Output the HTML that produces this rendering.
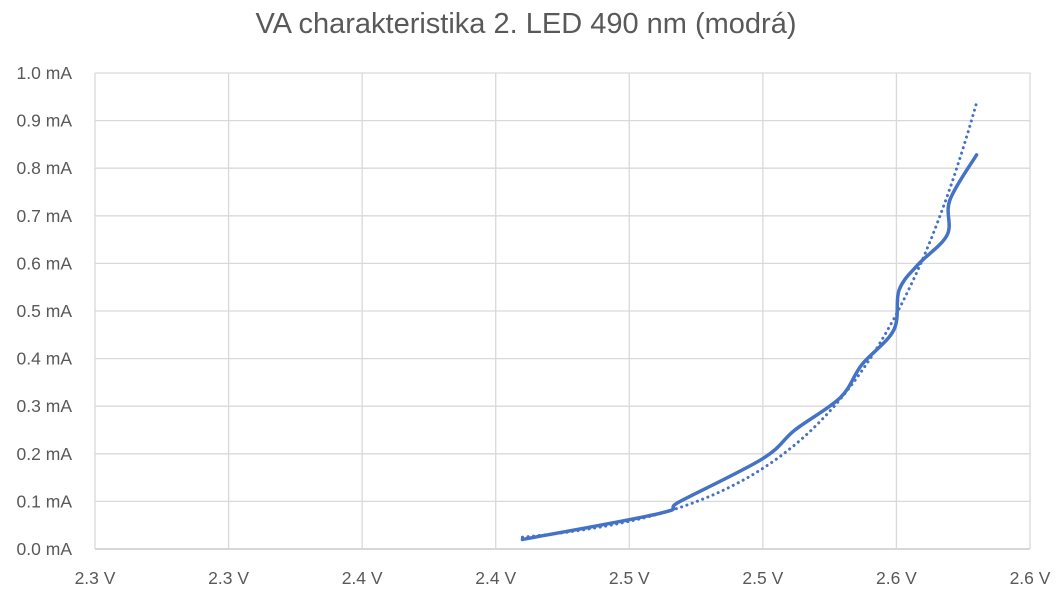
<!DOCTYPE html>
<html><head><meta charset="utf-8"><style>
body{margin:0;background:#fff;}
svg{display:block;font-family:"Liberation Sans",Calibri,sans-serif;}
</style></head><body>
<svg id="chart" width="1057" height="592" viewBox="0 0 1057 592">
<text x="526" y="33" text-anchor="middle" font-size="29" fill="#595959">VA charakteristika 2. LED 490 nm (modrá)</text>
<g id="grid"></g><g id="axes"></g><g id="series"></g>
</svg>
<script>
const xTicks=[2.25,2.30,2.35,2.40,2.45,2.50,2.55,2.60];
const xTickLabels=["2.3 V","2.3 V","2.4 V","2.4 V","2.5 V","2.5 V","2.6 V","2.6 V"];
const yTicks=[0,0.1,0.2,0.3,0.4,0.5,0.6,0.7,0.8,0.9,1.0];
const yTickLabels=["0.0 mA","0.1 mA","0.2 mA","0.3 mA","0.4 mA","0.5 mA","0.6 mA","0.7 mA","0.8 mA","0.9 mA","1.0 mA"];
const voltage=[2.41,2.4615,2.469,2.50,2.512,2.529,2.537,2.549,2.551,2.558,2.569,2.570,2.58];
const current=[0.02,0.075,0.10,0.19,0.25,0.318,0.387,0.46,0.544,0.597,0.66,0.733,0.828];
const NS="http://www.w3.org/2000/svg";
const X0=95,X1=1030,Y0=549,Y1=73;
const xs=v=>X0+(v-2.25)/(2.60-2.25)*(X1-X0);
const ys=v=>Y0-(v/1.0)*(Y0-Y1);
function mk(tag,attrs,parent){const e=document.createElementNS(NS,tag);for(const k in attrs)e.setAttribute(k,attrs[k]);document.getElementById(parent).appendChild(e);return e;}
yTicks.forEach((t,i)=>{
 const l=mk('line',{x1:X0,x2:X1,y1:ys(t),y2:ys(t),stroke:i===0?'#bfbfbf':'#d9d9d9','stroke-width':1.3},'grid');
 
 
 const tx=mk('text',{x:72,y:ys(t)+6,'text-anchor':'end','font-size':17.5,fill:'#595959'},'axes');
 tx.textContent=yTickLabels[i];
 
 
});
xTicks.forEach((t,i)=>{
 const l=mk('line',{x1:xs(t),x2:xs(t),y1:Y1,y2:Y0,stroke:'#d9d9d9','stroke-width':1.3},'grid');
 
 
 const tx=mk('text',{x:xs(t),y:584,'text-anchor':'middle','font-size':17.5,fill:'#595959'},'axes');
 tx.textContent=xTickLabels[i];
 
 
});
let n=voltage.length,sx=0,sy=0,sxx=0,sxy=0;
for(let i=0;i<n;i++){const lx=voltage[i],ly=Math.log(current[i]);sx+=lx;sy+=ly;sxx+=lx*lx;sxy+=lx*ly;}
const b=(n*sxy-sx*sy)/(n*sxx-sx*sx),a=(sy-b*sx)/n;
let td='';const vmin=voltage[0],vmax=voltage[n-1];
for(let k=0;k<=60;k++){const v=vmin+(vmax-vmin)*k/60;td+=(k?'L':'M')+xs(v).toFixed(1)+','+ys(Math.exp(a+b*v)).toFixed(1);}
const tr=mk('path',{d:td,fill:'none',stroke:'#4472c4','stroke-width':3,'stroke-dasharray':'0.1 5.5','stroke-linecap':'round'},'series');


const P=voltage.map((v,i)=>[xs(v),ys(current[i])]);
let d='M'+P[0][0]+','+P[0][1];
for(let i=0;i<P.length-1;i++){
 const p0=P[i-1]||P[i],p1=P[i],p2=P[i+1],p3=P[i+2]||P[i+1],t=1/6;
 d+=`C${p1[0]+(p2[0]-p0[0])*t},${p1[1]+(p2[1]-p0[1])*t} ${p2[0]-(p3[0]-p1[0])*t},${p2[1]-(p3[1]-p1[1])*t} ${p2[0]},${p2[1]}`;
}
const s=mk('path',{d:d,fill:'none',stroke:'#4472c4','stroke-width':3.5,'stroke-linecap':'round','stroke-linejoin':'round'},'series');


</script>
</body></html>
